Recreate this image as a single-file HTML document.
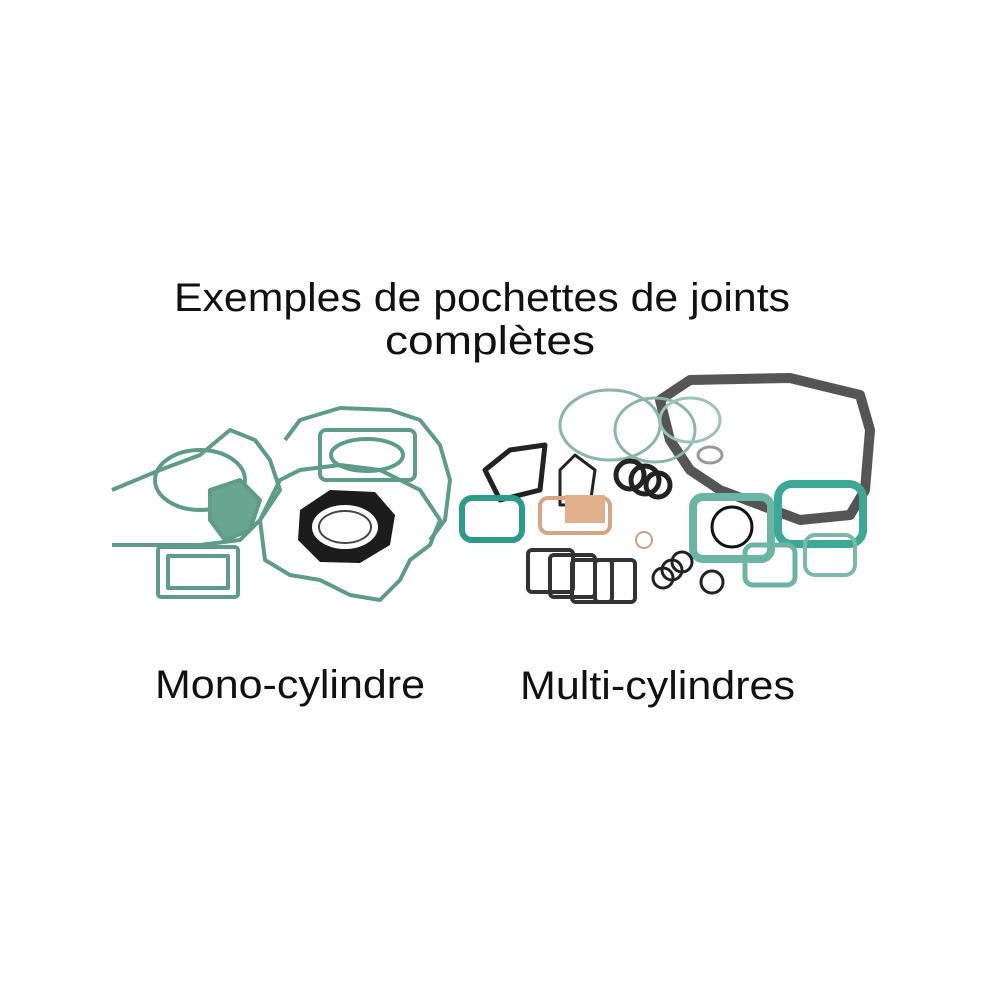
<!DOCTYPE html>
<html><head><meta charset="utf-8"><style>html,body{margin:0;padding:0;background:#fff;}svg{display:block}</style></head>
<body>
<svg width="1000" height="1000" viewBox="0 0 1000 1000" xmlns="http://www.w3.org/2000/svg">
<rect width="1000" height="1000" fill="#fff"/>
<g font-family="Liberation Sans, Arial, sans-serif" fill="#111" font-size="40">
<text x="174" y="311" textLength="616" lengthAdjust="spacingAndGlyphs">Exemples de pochettes de joints</text>
<text x="385" y="354" textLength="210" lengthAdjust="spacingAndGlyphs">complètes</text>
<text x="155" y="698" textLength="270" lengthAdjust="spacingAndGlyphs">Mono-cylindre</text>
<text x="520" y="699" textLength="275" lengthAdjust="spacingAndGlyphs">Multi-cylindres</text>
</g>
<!-- Left group -->
<g fill="none" stroke="#5e9c88" stroke-width="4" stroke-linejoin="round">
<path d="M112 490 L160 470 L200 455 L230 430 L255 440 L270 460 L280 490 L260 520 L240 540 L200 545 L160 545 L112 545"/>
<ellipse cx="200" cy="480" rx="45" ry="30"/>
<path d="M285 440 L300 420 L340 408 L390 410 L420 420 L440 445 L450 480 L445 520 L430 540"/>
<rect x="320" y="430" width="95" height="50" rx="6"/>
<ellipse cx="367" cy="455" rx="36" ry="16"/>
<path d="M260 520 L280 480 L300 470 L340 465 L380 470 L420 490 L440 520 L430 545 L410 560 L400 580 L380 600 L350 595 L320 580 L290 575 L265 560 Z"/>
<rect x="158" y="547" width="80" height="50" rx="3"/>
<rect x="168" y="556" width="60" height="32"/>
<path d="M210 490 L240 480 L260 500 L250 530 L225 540 L210 520 Z" fill="#6aa592"/>
</g>
<g>
<path d="M300 510 L330 490 L375 492 L395 515 L390 545 L360 563 L320 562 L298 540 Z" fill="#1c1c1c"/>
<ellipse cx="345" cy="527" rx="33" ry="22" fill="#fff"/>
<ellipse cx="345" cy="527" rx="26" ry="16" fill="none" stroke="#444" stroke-width="2"/>
</g>
<!-- Right group -->
<g fill="none" stroke-linejoin="round">
<path d="M660 400 L690 380 L790 378 L860 395 L870 430 L865 490 L850 515 L800 520 L760 505 L720 490 L690 470 L670 440 Z" stroke="#555" stroke-width="10"/>
<ellipse cx="610" cy="425" rx="50" ry="35" stroke="#8ab5a8" stroke-width="3"/>
<ellipse cx="655" cy="430" rx="40" ry="32" stroke="#8ab5a8" stroke-width="3"/>
<ellipse cx="690" cy="420" rx="30" ry="22" stroke="#9bc3b6" stroke-width="3"/>
<ellipse cx="710" cy="455" rx="12" ry="8" stroke="#999" stroke-width="3"/>
<path d="M485 470 L510 450 L545 445 L540 490 L500 500 Z" stroke="#222" stroke-width="5"/>
<path d="M560 470 L575 455 L595 470 L590 505 L560 505 Z" stroke="#222" stroke-width="3"/>
<ellipse cx="630" cy="475" rx="14" ry="14" stroke="#222" stroke-width="5"/>
<ellipse cx="645" cy="480" rx="14" ry="14" stroke="#222" stroke-width="5"/>
<ellipse cx="658" cy="485" rx="12" ry="12" stroke="#222" stroke-width="5"/>
<rect x="462" y="498" width="60" height="42" rx="10" stroke="#2e9b8a" stroke-width="6"/>
<rect x="540" y="498" width="70" height="35" rx="8" stroke="#d6a682" stroke-width="4"/>
<rect x="565" y="495" width="40" height="28" fill="#e0b08c"/>
<circle cx="644" cy="540" r="8" stroke="#c9a080" stroke-width="2"/>
<rect x="693" y="497" width="78" height="62" rx="10" stroke="#6cb4a4" stroke-width="8"/>
<circle cx="732" cy="527" r="20" stroke="#111" stroke-width="3"/>
<rect x="778" y="484" width="85" height="60" rx="14" stroke="#3ea896" stroke-width="8"/>
<rect x="745" y="545" width="50" height="40" rx="8" stroke="#6cb4a4" stroke-width="5"/>
<rect x="805" y="535" width="50" height="40" rx="10" stroke="#7ab9aa" stroke-width="4"/>
<rect x="528" y="550" width="45" height="42" rx="4" stroke="#333" stroke-width="4"/>
<rect x="550" y="555" width="45" height="42" rx="4" stroke="#333" stroke-width="4"/>
<rect x="572" y="560" width="40" height="42" rx="4" stroke="#333" stroke-width="4"/>
<rect x="595" y="560" width="40" height="42" rx="4" stroke="#333" stroke-width="4"/>
<circle cx="663" cy="578" r="10" stroke="#222" stroke-width="3"/>
<circle cx="672" cy="570" r="10" stroke="#222" stroke-width="3"/>
<circle cx="682" cy="562" r="10" stroke="#222" stroke-width="3"/>
<circle cx="712" cy="582" r="11" stroke="#222" stroke-width="3"/>
</g>
</svg>
</body></html>
